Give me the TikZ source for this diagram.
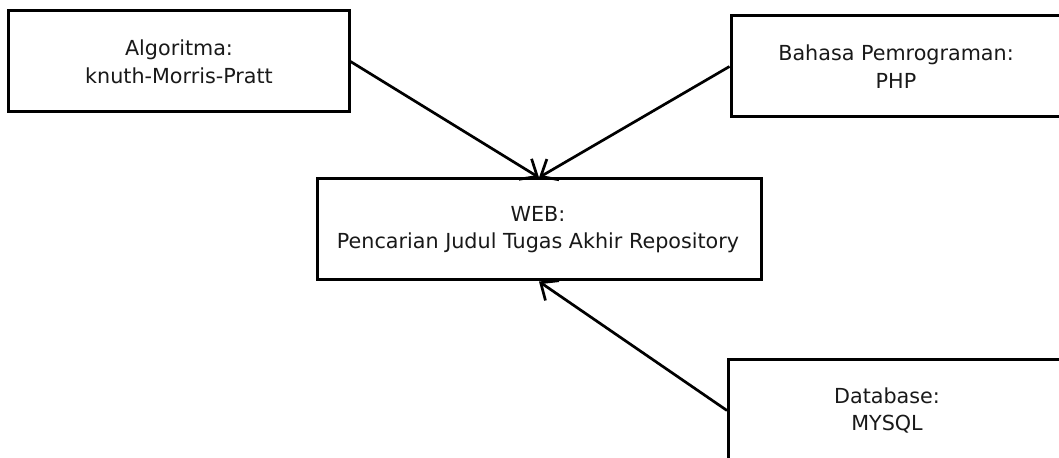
\documentclass[tikz,border=0pt]{standalone}
\usepackage{fontspec}
\setmainfont{DejaVu Sans}
\usetikzlibrary{arrows.meta}

\tikzset{
  block/.style={draw=black, line width=3bp, fill=white, rectangle,
    minimum height=101bp, inner sep=0pt},
  label text/.style={font=\fontsize{20.7bp}{27.7bp}\selectfont, align=center,
    text=black!90, inner sep=0pt},
  link/.style={draw=black, line width=2.7bp,
    -{Straight Barb[length=14bp, width=24bp, line width=2.7bp]}}
}

\begin{document}
\begin{tikzpicture}[x=1bp, y=-1bp]
  \useasboundingbox (0,0) rectangle (1059,458);
  \clip (0,0) rectangle (1059,458);
  \fill[white] (0,0) rectangle (1059,458);

  % boxes
  \node[block, minimum width=340bp] (alg) at (179,61.5) {};
  \node[label text] (algtext) at (179,61.5) {Algoritma:\\knuth-Morris-Pratt};

  \node[block, minimum width=330bp] (php) at (896,66.5) {};
  \node[label text] (phptext) at (896,66.5) {Bahasa Pemrograman:\\PHP};

  \node[block, minimum width=444bp] (web) at (539,229.5) {};
  \node[label text] (webtext) at (538,229.5) {WEB:\\Pencarian Judul  Tugas Akhir Repository};

  \node[block, minimum width=360bp, anchor=west] (db) at (727,410.5) {};
  \node[label text] (dbtext) at (887,410.5) {Database:\\MYSQL};

  % connectors
  \draw[link] (alg.east) -- (web.north);
  \draw[link] (php.west) -- (web.north);
  \draw[link] (db.west) -- (web.south);
\end{tikzpicture}
\end{document}
